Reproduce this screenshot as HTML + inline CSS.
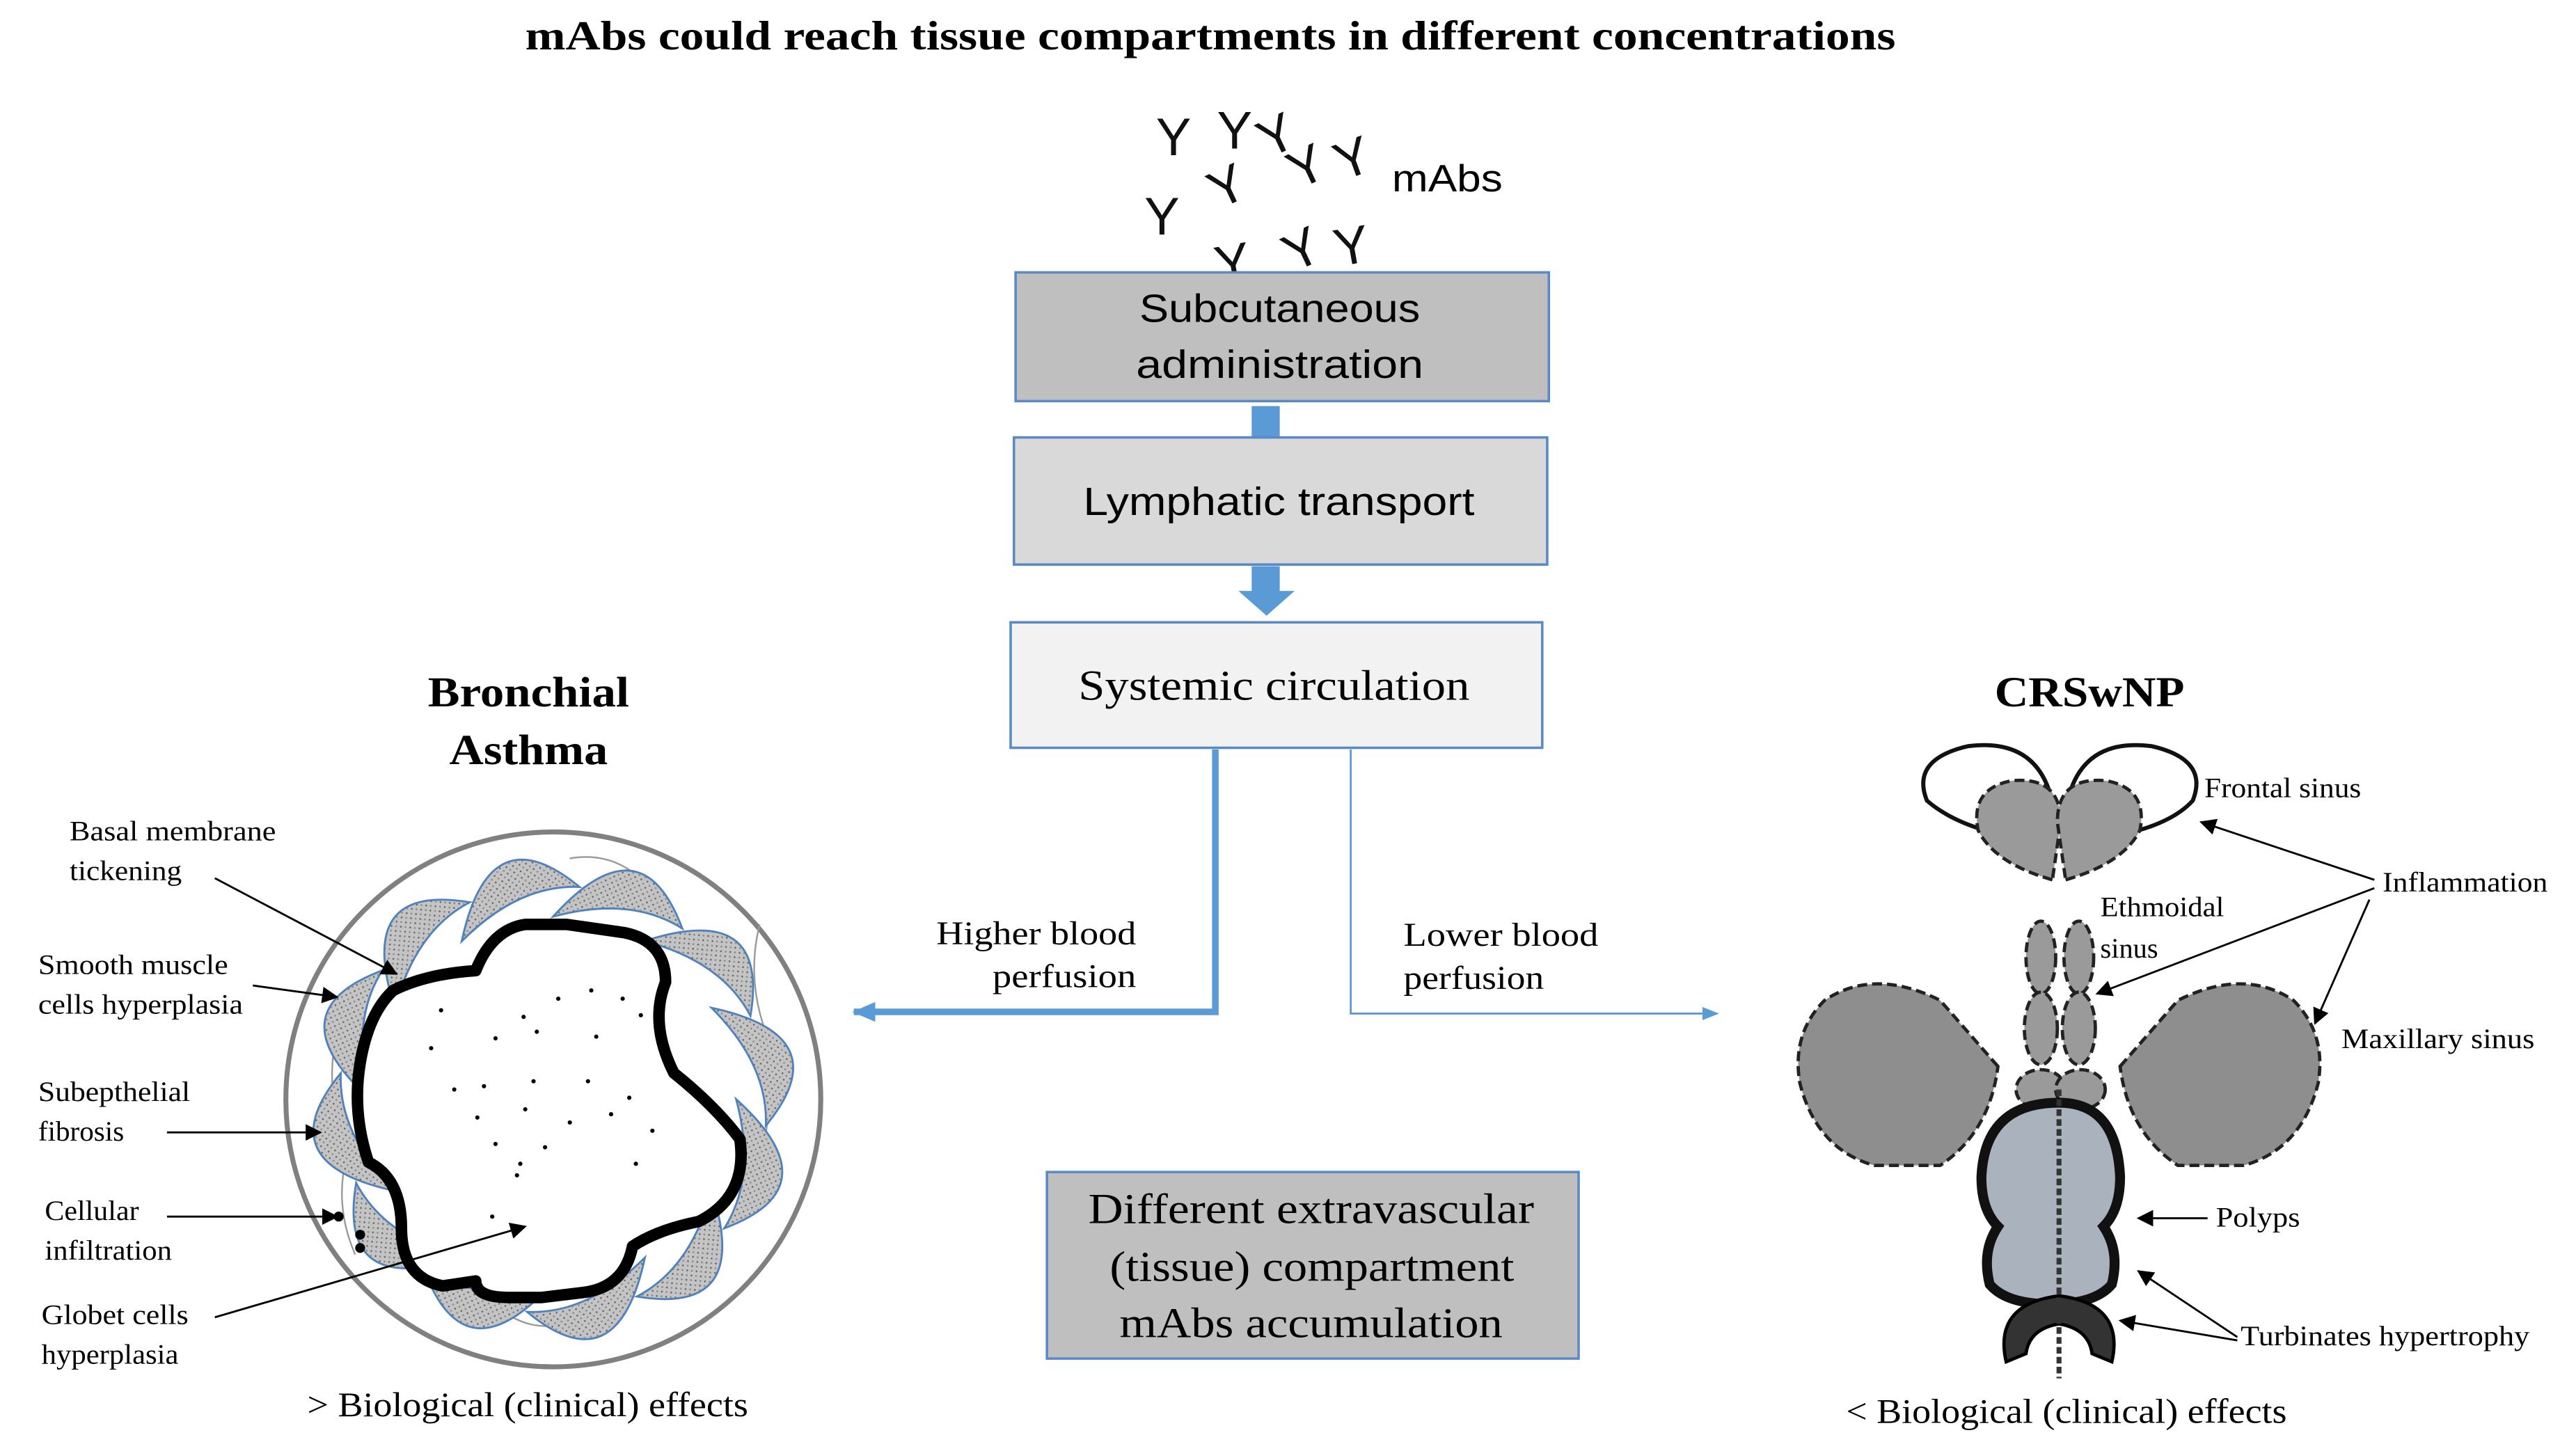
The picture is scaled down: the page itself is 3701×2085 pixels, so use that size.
<!DOCTYPE html>
<html><head><meta charset="utf-8"><style>
html,body{margin:0;padding:0;background:#fff;}
svg{display:block;}
.s{font-family:"Liberation Serif",serif;}
.a{font-family:"Liberation Sans","DejaVu Sans",sans-serif;}
</style></head><body>
<svg width="3701" height="2085" viewBox="0 0 1560 879" xmlns="http://www.w3.org/2000/svg">
<defs>
<marker id="ab" markerWidth="10" markerHeight="10" refX="9" refY="5" orient="auto" markerUnits="userSpaceOnUse"><path d="M0,0 L10,5 L0,10 z" fill="#000"/></marker>
<marker id="bl" markerWidth="14" markerHeight="12" refX="13" refY="6" orient="auto" markerUnits="userSpaceOnUse"><path d="M0,0 L14,6 L0,12 z" fill="#5b9bd5"/></marker>
<marker id="bl2" markerWidth="10" markerHeight="8" refX="9" refY="4" orient="auto" markerUnits="userSpaceOnUse"><path d="M0,0 L10,4 L0,8 z" fill="#5b9bd5"/></marker>
<pattern id="st" width="4" height="4" patternUnits="userSpaceOnUse"><rect width="4" height="4" fill="#c4c4c4"/><rect x="0" y="0" width="1" height="1" fill="#666"/><rect x="2" y="2" width="1" height="1" fill="#888"/></pattern>
<path id="cr" d="M-38,16 Q-8,-58 38,-4 Q2,-12 -38,16 z"/>
</defs>
<text x="318" y="30" textLength="830" lengthAdjust="spacingAndGlyphs" class="s" font-weight="bold" font-size="25">mAbs  could reach tissue compartments in different concentrations</text>

<g class="a" font-size="32" fill="#111">
<text x="700" y="94">Y</text><text x="737" y="90">Y</text>
<text x="762" y="94" transform="rotate(-25 770 82)">Y</text>
<text x="780" y="112" transform="rotate(-25 790 100)">Y</text>
<text x="808" y="107" transform="rotate(-20 818 95)">Y</text>
<text x="732" y="124" transform="rotate(-25 742 112)">Y</text>
<text x="693" y="142">Y</text>
<text x="736" y="170" transform="rotate(-10 748 160)">Y</text>
<text x="778" y="162" transform="rotate(-25 788 152)">Y</text>
<text x="808" y="160" transform="rotate(-10 818 150)">Y</text>
</g>
<text x="843" y="116" textLength="67" lengthAdjust="spacingAndGlyphs" class="a" font-size="23">mAbs</text>

<rect x="615" y="165" width="323" height="78" fill="#bfbfbf" stroke="#5a8ac6" stroke-width="1.5"/>
<text x="690" y="195" textLength="170" lengthAdjust="spacingAndGlyphs" class="a" font-size="24">Subcutaneous</text>
<text x="688" y="229" textLength="174" lengthAdjust="spacingAndGlyphs" class="a" font-size="24">administration</text>
<rect x="758" y="246" width="17" height="19" fill="#5b9bd5"/>
<rect x="614" y="265" width="323" height="77" fill="#d9d9d9" stroke="#5a8ac6" stroke-width="1.5"/>
<text x="656" y="312" textLength="237" lengthAdjust="spacingAndGlyphs" class="a" font-size="24">Lymphatic transport</text>
<path d="M758,343 h17 v15 h9 l-17,15 l-17,-15 h8 z" fill="#5b9bd5"/>
<rect x="612" y="377" width="322" height="76" fill="#f2f2f2" stroke="#5a8ac6" stroke-width="1.5"/>
<text x="653" y="424" textLength="237" lengthAdjust="spacingAndGlyphs" class="s" font-size="26">Systemic  circulation</text>

<path d="M736,454 V613 H517" fill="none" stroke="#5b9bd5" stroke-width="4" marker-end="url(#bl)"/>
<path d="M818,454 V614 H1040" fill="none" stroke="#5b9bd5" stroke-width="1.2" marker-end="url(#bl2)"/>
<g class="s" font-size="20">
<text x="567" y="572" textLength="121" lengthAdjust="spacingAndGlyphs">Higher blood</text><text x="601" y="598" textLength="87" lengthAdjust="spacingAndGlyphs">perfusion</text>
<text x="850" y="573" textLength="118" lengthAdjust="spacingAndGlyphs">Lower blood</text><text x="850" y="599" textLength="85" lengthAdjust="spacingAndGlyphs">perfusion</text>
</g>

<rect x="634" y="710" width="322" height="113" fill="#bfbfbf" stroke="#5a8ac6" stroke-width="1.5"/>
<g class="s" font-size="26">
<text x="659" y="741" textLength="270" lengthAdjust="spacingAndGlyphs">Different extravascular</text>
<text x="672" y="776" textLength="245" lengthAdjust="spacingAndGlyphs">(tissue) compartment</text>
<text x="678" y="810" textLength="232" lengthAdjust="spacingAndGlyphs">mAbs accumulation</text>
</g>

<g class="s" font-weight="bold" font-size="26">
<text x="259" y="428" textLength="122" lengthAdjust="spacingAndGlyphs">Bronchial</text><text x="272" y="463" textLength="96" lengthAdjust="spacingAndGlyphs">Asthma</text>
</g>
<circle cx="335" cy="666" r="162" fill="#fff" stroke="#808080" stroke-width="3"/>
<g fill="none" stroke="#999" stroke-width="1">
<path d="M205,620 q-10,40 5,80 q-8,30 5,60"/><path d="M460,560 q-10,40 10,80 q-5,40 -10,70"/><path d="M345,520 q30,-5 50,20"/><path d="M300,790 q20,20 50,10"/><path d="M420,720 q10,30 -10,60"/>
</g>
<g fill="url(#st)" stroke="#4f81bd" stroke-width="1.2">
<use href="#cr" transform="translate(335 666) rotate(-10) translate(0 -120)"/>
<use href="#cr" transform="translate(335 666) rotate(-40) translate(0 -120)"/>
<use href="#cr" transform="translate(335 666) rotate(-70) translate(0 -120)"/>
<use href="#cr" transform="translate(335 666) rotate(-100) translate(0 -120)"/>
<use href="#cr" transform="translate(335 666) rotate(-130) translate(0 -120)"/>
<use href="#cr" transform="translate(335 666) rotate(-160) translate(0 -120)"/>
<use href="#cr" transform="translate(335 666) rotate(170) translate(0 -120)"/>
<use href="#cr" transform="translate(335 666) rotate(140) translate(0 -120)"/>
<use href="#cr" transform="translate(335 666) rotate(110) translate(0 -120)"/>
<use href="#cr" transform="translate(335 666) rotate(80) translate(0 -120)"/>
<use href="#cr" transform="translate(335 666) rotate(50) translate(0 -120)"/>
<use href="#cr" transform="translate(335 666) rotate(20) translate(0 -120)"/>
</g>
<path d="M238,600 q20,-10 50,-12 q10,-25 30,-28 h25 l35,5 q25,5 25,30 q-10,25 5,55 q25,20 40,40 q5,35 -25,50 q-25,5 -40,15 q-5,25 -30,28 l-25,3 h-20 q-20,0 -20,-10 l-20,3 q-25,-5 -25,-35 q0,-30 -20,-40 q-10,-30 -5,-60 q5,-30 20,-44 z" fill="#fff" stroke="#000" stroke-width="7" stroke-linejoin="round"/>
<g fill="#000">
<circle cx="267" cy="612" r="1.3"/><circle cx="300" cy="629" r="1.3"/><circle cx="325" cy="625" r="1.3"/><circle cx="358" cy="600" r="1.3"/><circle cx="377" cy="605" r="1.3"/><circle cx="338" cy="605" r="1.3"/><circle cx="317" cy="616" r="1.3"/><circle cx="261" cy="635" r="1.3"/><circle cx="293" cy="658" r="1.3"/><circle cx="323" cy="655" r="1.3"/><circle cx="356" cy="655" r="1.3"/><circle cx="381" cy="665" r="1.3"/><circle cx="388" cy="615" r="1.3"/><circle cx="361" cy="628" r="1.3"/><circle cx="275" cy="660" r="1.3"/><circle cx="289" cy="677" r="1.3"/><circle cx="318" cy="672" r="1.3"/><circle cx="345" cy="680" r="1.3"/><circle cx="370" cy="675" r="1.3"/><circle cx="395" cy="685" r="1.3"/><circle cx="300" cy="693" r="1.3"/><circle cx="315" cy="705" r="1.3"/><circle cx="330" cy="695" r="1.3"/><circle cx="385" cy="705" r="1.3"/><circle cx="298" cy="737" r="1.3"/><circle cx="313" cy="712" r="1.3"/>
<circle cx="205" cy="737" r="3"/><circle cx="218" cy="748" r="3"/><circle cx="218" cy="756" r="3"/>
</g>
<g class="s" font-size="17">
<text x="42" y="509" textLength="125" lengthAdjust="spacingAndGlyphs">Basal membrane</text><text x="42" y="533" textLength="68" lengthAdjust="spacingAndGlyphs">tickening</text>
<text x="23" y="590" textLength="115" lengthAdjust="spacingAndGlyphs">Smooth muscle</text><text x="23" y="614" textLength="124" lengthAdjust="spacingAndGlyphs">cells hyperplasia</text>
<text x="23" y="667" textLength="92" lengthAdjust="spacingAndGlyphs">Subepthelial</text><text x="23" y="691" textLength="52" lengthAdjust="spacingAndGlyphs">fibrosis</text>
<text x="27" y="739" textLength="57" lengthAdjust="spacingAndGlyphs">Cellular</text><text x="27" y="763" textLength="77" lengthAdjust="spacingAndGlyphs">infiltration</text>
<text x="25" y="802" textLength="89" lengthAdjust="spacingAndGlyphs">Globet cells</text><text x="25" y="826" textLength="83" lengthAdjust="spacingAndGlyphs">hyperplasia</text>
</g>
<g stroke="#000" stroke-width="1.2" fill="none">
<line x1="130" y1="532" x2="240" y2="590" marker-end="url(#ab)"/>
<line x1="153" y1="597" x2="204" y2="604" marker-end="url(#ab)"/>
<line x1="101" y1="686" x2="194" y2="686" marker-end="url(#ab)"/>
<line x1="101" y1="737" x2="204" y2="737" marker-end="url(#ab)"/>
<line x1="130" y1="798" x2="318" y2="743" marker-end="url(#ab)"/>
</g>
<text x="186" y="858" textLength="267" lengthAdjust="spacingAndGlyphs" class="s" font-size="21">&gt; Biological  (clinical)  effects</text>

<text x="1208" y="428" textLength="115" lengthAdjust="spacingAndGlyphs" class="s" font-weight="bold" font-size="26">CRSwNP</text>
<g fill="none" stroke="#111" stroke-width="2.5">
<path d="M1240,510 q-50,-5 -73,-25 q-10,-25 25,-33 q40,-5 50,30"/>
<path d="M1255,510 q55,-5 73,-25 q10,-25 -25,-33 q-40,-5 -50,30"/>
</g>
<g fill="#9a9a9a" stroke="#222" stroke-width="2" stroke-dasharray="6 3">
<path d="M1243,533 q-35,-10 -45,-30 q-5,-25 20,-30 q30,-3 30,25 z"/>
<path d="M1251,533 q35,-10 45,-30 q5,-25 -20,-30 q-30,-3 -30,25 z"/>
<ellipse cx="1236" cy="580" rx="9" ry="22"/><ellipse cx="1259" cy="580" rx="9" ry="22"/>
<ellipse cx="1236" cy="623" rx="10" ry="22"/><ellipse cx="1259" cy="623" rx="10" ry="22"/>
<ellipse cx="1236" cy="660" rx="15" ry="12"/><ellipse cx="1260" cy="660" rx="15" ry="12"/>
<path d="M1210,646 l-35,-40 q-40,-20 -70,0 q-20,20 -15,50 q10,40 45,50 h40 q30,-20 35,-60 z" fill="#8e8e8e"/>
<path d="M1284,646 l35,-40 q40,-20 70,0 q20,20 15,50 q-10,40 -45,50 h-40 q-30,-20 -35,-60 z" fill="#8e8e8e"/>
</g>
<path d="M1247,668 q-45,0 -47,45 q0,20 10,30 q-10,15 -5,35 q10,12 37,12 q27,0 37,-12 q5,-20 -5,-35 q10,-10 10,-30 q-2,-45 -37,-45 z" fill="#a9b2bd" stroke="#111" stroke-width="6"/>
<path d="M1215,825 q-8,-35 32,-40 q40,5 32,40 l-12,-5 q-2,-15 -20,-18 q-18,3 -20,18 z" fill="#333" stroke="#000" stroke-width="2"/>
<line x1="1247" y1="660" x2="1247" y2="835" stroke="#333" stroke-width="3" stroke-dasharray="4 2"/>
<g class="s" font-size="17">
<text x="1335" y="483" textLength="95" lengthAdjust="spacingAndGlyphs">Frontal  sinus</text>
<text x="1443" y="540" textLength="100" lengthAdjust="spacingAndGlyphs">Inflammation</text>
<text x="1272" y="555" textLength="75" lengthAdjust="spacingAndGlyphs">Ethmoidal</text><text x="1272" y="580" textLength="35" lengthAdjust="spacingAndGlyphs">sinus</text>
<text x="1418" y="635" textLength="117" lengthAdjust="spacingAndGlyphs">Maxillary  sinus</text>
<text x="1342" y="743" textLength="51" lengthAdjust="spacingAndGlyphs">Polyps</text>
<text x="1357" y="815" textLength="175" lengthAdjust="spacingAndGlyphs">Turbinates  hypertrophy</text>
</g>
<g stroke="#000" stroke-width="1.2" fill="none">
<line x1="1438" y1="533" x2="1333" y2="498" marker-end="url(#ab)"/>
<line x1="1438" y1="538" x2="1270" y2="602" marker-end="url(#ab)"/>
<line x1="1435" y1="545" x2="1402" y2="620" marker-end="url(#ab)"/>
<line x1="1337" y1="738" x2="1295" y2="738" marker-end="url(#ab)"/>
<line x1="1355" y1="810" x2="1295" y2="770" marker-end="url(#ab)"/>
<line x1="1355" y1="812" x2="1284" y2="800" marker-end="url(#ab)"/>
</g>
<text x="1118" y="862" textLength="267" lengthAdjust="spacingAndGlyphs" class="s" font-size="21">&lt; Biological  (clinical)  effects</text>
</svg>
</body></html>
